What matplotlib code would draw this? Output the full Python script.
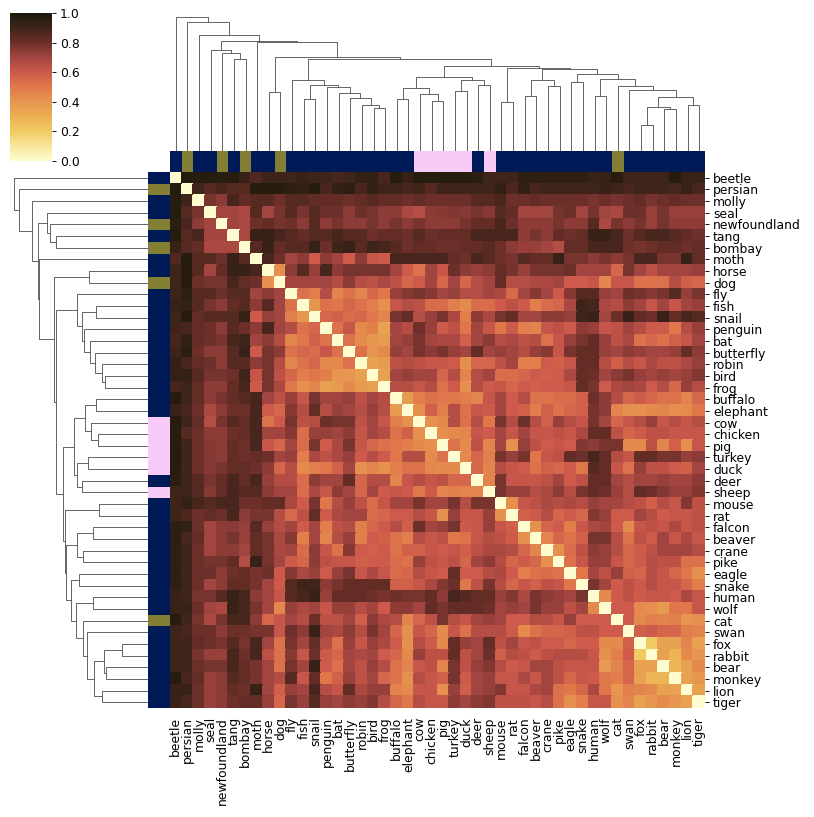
import numpy as np
import matplotlib
matplotlib.use('Agg')
import matplotlib.pyplot as plt
from matplotlib.colors import LinearSegmentedColormap, ListedColormap

# leaves in the clustered order
animals = ['beetle', 'persian', 'molly', 'seal', 'newfoundland', 'tang', 'bombay', 'moth',
           'horse', 'dog', 'fly', 'fish', 'snail', 'penguin', 'bat', 'butterfly', 'robin',
           'bird', 'frog', 'buffalo', 'elephant', 'cow', 'chicken', 'pig', 'turkey', 'duck',
           'deer', 'sheep', 'mouse', 'rat', 'falcon', 'beaver', 'crane', 'pike', 'eagle',
           'snake', 'human', 'wolf', 'cat', 'swan', 'fox', 'rabbit', 'bear', 'monkey',
           'lion', 'tiger']

# 0 = other, 1 = pet, 2 = farm
groups = [0, 1, 0, 0, 1, 0, 1, 0, 0, 1, 0, 0, 0, 0, 0, 0, 0, 0, 0, 0, 0, 2, 2, 2, 2, 2,
          0, 2, 0, 0, 0, 0, 0, 0, 0, 0, 0, 0, 1, 0, 0, 0, 0, 0, 0, 0]
group_colors = ['#001a58', '#827f35', '#f8caf8']

# upper triangle of the distance matrix, row i holds columns i+1 .. 45
upper = [
    [.98, .97, .97, .96, .97, .92, .86, .9, .9, .9, .92, .9, .9, .88, .9, .93, .93, .88, .97, .92, .97, .97, .97, .97, .97, .96, .9, .9, .9, .95, .95, .95, .95, .95, .95, .92, .92, .97, .9, .9, .9, .9, .97, .92, .92],
    [.9, .85, .88, .85, .85, .97, .97, .97, .95, .93, .97, .88, .93, .95, .88, .93, .9, .9, .88, .9, .85, .9, .9, .9, .9, .9, .93, .87, .93, .88, .9, .9, .9, .9, .9, .92, .9, .88, .9, .9, .9, .88, .92, .88],
    [.78, .74, .88, .82, .85, .85, .8, .85, .85, .82, .82, .82, .8, .82, .85, .82, .82, .8, .82, .8, .8, .8, .8, .85, .85, .88, .8, .8, .82, .8, .8, .8, .8, .78, .8, .78, .8, .82, .78, .8, .82, .8, .8],
    [.7, .7, .68, .85, .7, .78, .85, .78, .85, .8, .8, .74, .8, .78, .74, .74, .68, .66, .74, .75, .76, .75, .78, .75, .85, .82, .7, .7, .7, .78, .8, .7, .78, .7, .68, .8, .8, .72, .78, .72, .72, .72],
    [.7, .68, .8, .82, .78, .8, .74, .85, .74, .78, .74, .74, .78, .74, .78, .74, .78, .74, .74, .74, .78, .82, .82, .88, .8, .74, .74, .74, .78, .74, .74, .85, .68, .78, .74, .78, .72, .78, .74, .74, .74],
    [.68, .92, .92, .88, .85, .82, .85, .85, .88, .85, .85, .8, .82, .82, .8, .85, .8, .82, .82, .82, .88, .88, .88, .88, .74, .78, .74, .82, .8, .82, .92, .92, .88, .8, .85, .88, .88, .85, .82, .8],
    [.85, .92, .82, .85, .85, .92, .8, .9, .92, .85, .9, .88, .85, .8, .82, .82, .8, .8, .82, .82, .85, .8, .74, .72, .72, .7, .66, .82, .82, .88, .88, .88, .8, .78, .8, .82, .82, .8, .82],
    [.88, .8, .7, .74, .6, .74, .7, .6, .74, .62, .6, .88, .88, .88, .88, .88, .82, .8, .88, .85, .8, .78, .85, .82, .82, .92, .78, .78, .74, .78, .74, .78, .88, .88, .78, .78, .92, .82],
    [.42, .74, .85, .72, .88, .74, .78, .78, .78, .78, .7, .6, .52, .7, .62, .8, .74, .72, .74, .82, .78, .72, .78, .78, .78, .8, .7, .7, .7, .56, .78, .7, .64, .7, .7, .7, .72],
    [.7, .7, .7, .7, .66, .74, .66, .64, .68, .64, .56, .6, .7, .56, .7, .56, .66, .7, .82, .66, .66, .68, .68, .7, .6, .6, .62, .45, .62, .62, .52, .52, .52, .66, .58, .56],
    [.52, .48, .66, .46, .52, .46, .56, .5, .72, .75, .78, .75, .7, .72, .66, .66, .7, .68, .55, .7, .75, .7, .6, .75, .85, .85, .72, .7, .8, .78, .75, .78, .85, .72, .78],
    [.4, .52, .5, .56, .52, .48, .42, .62, .66, .64, .54, .54, .48, .44, .54, .54, .6, .64, .6, .48, .54, .56, .68, .9, .88, .68, .66, .74, .7, .62, .7, .62, .7, .72],
    [.56, .58, .54, .56, .5, .46, .78, .82, .66, .72, .78, .68, .48, .74, .68, .78, .82, .7, .7, .74, .74, .72, .9, .92, .7, .8, .92, .82, .8, .92, .82, .88, .85],
    [.52, .62, .44, .48, .36, .7, .66, .8, .72, .6, .64, .5, .7, .62, .5, .6, .48, .46, .62, .64, .6, .74, .72, .62, .64, .7, .66, .6, .6, .5, .66, .72],
    [.52, .44, .4, .38, .7, .72, .78, .7, .68, .68, .58, .7, .74, .66, .68, .64, .66, .52, .62, .72, .78, .82, .72, .64, .68, .52, .56, .52, .58, .62, .7],
    [.52, .4, .44, .72, .7, .78, .74, .78, .72, .7, .82, .7, .72, .7, .66, .72, .75, .62, .78, .82, .82, .72, .7, .74, .72, .7, .7, .72, .82, .74],
    [.36, .38, .64, .66, .64, .62, .62, .6, .42, .56, .56, .64, .7, .48, .48, .6, .58, .62, .82, .82, .66, .58, .66, .62, .68, .64, .64, .68, .72],
    [.36, .7, .72, .7, .7, .56, .66, .46, .66, .7, .54, .54, .56, .6, .58, .6, .68, .82, .8, .7, .74, .78, .72, .7, .72, .7, .72, .76],
    [.66, .66, .62, .66, .52, .6, .42, .66, .6, .62, .56, .6, .58, .6, .6, .62, .82, .78, .6, .68, .7, .68, .6, .66, .56, .72, .66],
    [.38, .48, .52, .5, .5, .48, .46, .62, .7, .6, .66, .52, .52, .54, .54, .58, .8, .74, .66, .56, .6, .56, .52, .52, .46, .56],
    [.42, .58, .48, .66, .52, .62, .6, .7, .6, .58, .48, .58, .52, .56, .58, .78, .74, .46, .42, .42, .44, .46, .42, .44, .5],
    [.42, .44, .66, .52, .66, .5, .78, .66, .8, .66, .58, .72, .66, .62, .78, .7, .56, .62, .66, .72, .62, .66, .62, .66],
    [.42, .44, .45, .62, .6, .7, .62, .7, .62, .62, .64, .62, .68, .82, .82, .64, .56, .6, .64, .64, .62, .62, .62],
    [.52, .44, .64, .46, .7, .42, .72, .64, .6, .62, .6, .76, .74, .78, .78, .44, .44, .64, .46, .58, .42, .62],
    [.44, .56, .48, .78, .72, .78, .5, .62, .64, .82, .8, .88, .82, .66, .62, .82, .82, .78, .78, .72, .74],
    [.56, .46, .66, .62, .6, .52, .58, .56, .6, .5, .85, .82, .62, .52, .72, .64, .64, .6, .58, .7],
    [.46, .78, .62, .62, .62, .64, .7, .6, .64, .82, .82, .7, .66, .7, .7, .72, .7, .7, .74],
    [.78, .72, .72, .66, .68, .74, .66, .78, .82, .8, .72, .66, .82, .8, .76, .72, .72, .76],
    [.42, .62, .64, .68, .66, .68, .66, .72, .7, .7, .66, .64, .58, .66, .62, .76, .64],
    [.58, .6, .66, .56, .6, .56, .76, .72, .6, .6, .7, .66, .6, .62, .62, .64],
    [.42, .56, .6, .48, .62, .68, .7, .6, .44, .62, .64, .62, .68, .62, .64],
    [.46, .56, .52, .58, .78, .78, .66, .52, .64, .6, .7, .62, .68, .62],
    [.42, .54, .64, .74, .72, .66, .56, .6, .64, .7, .7, .7, .66],
    [.52, .62, .72, .72, .62, .56, .6, .66, .64, .64, .52, .52],
    [.5, .7, .64, .72, .58, .56, .66, .62, .56, .5, .42],
    [.78, .7, .6, .64, .6, .66, .62, .62, .56, .48],
    [.44, .6, .64, .6, .62, .62, .6, .68, .62],
    [.6, .6, .44, .42, .38, .5, .5, .62],
    [.6, .44, .48, .46, .48, .4, .42],
    [.58, .6, .56, .56, .48, .46],
    [.2, .36, .36, .46, .36],
    [.36, .28, .44, .4],
    [.28, .36, .44],
    [.36, .4],
    [.36],
]

# linkage: (left, right, height); ids >= 46 are earlier merges
merges = [
    (40, 41, 26.3), (42, 43, 41.7), (46, 47, 43.7), (17, 18, 43.3), (16, 49, 45.7),
    (44, 45, 46.0), (28, 29, 48.7), (22, 23, 50.0), (11, 12, 52.0), (19, 20, 52.0),
    (15, 50, 53.3), (48, 51, 54.0), (30, 31, 54.7), (36, 37, 55.3), (21, 53, 56.7),
    (14, 56, 58.3), (8, 9, 58.7), (24, 25, 60.3), (39, 57, 61.3), (55, 60, 62.7),
    (13, 61, 64.3), (38, 64, 64.7), (32, 33, 65.3), (54, 66, 66.0), (26, 27, 66.3),
    (34, 35, 69.3), (58, 68, 70.7), (10, 69, 71.0), (63, 70, 71.0), (59, 67, 72.3),
    (65, 74, 74.3), (71, 75, 76.7), (72, 77, 82.0), (52, 78, 83.0), (76, 79, 85.3),
    (73, 80, 91.7), (5, 6, 92.0), (62, 81, 94.0), (4, 82, 97.7), (3, 84, 101.0),
    (7, 83, 108.7), (85, 86, 110.3), (2, 87, 116.0), (1, 88, 128.7), (0, 89, 133.7),
]

n = len(animals)
dist = np.zeros((n, n))
for i, row in enumerate(upper):
    for k, v in enumerate(row):
        dist[i, i + 1 + k] = v
        dist[i + 1 + k, i] = v

cmap = LinearSegmentedColormap.from_list('lajolla', [
    (0.0, '#fffdcf'), (0.1, '#f8e69a'), (0.2, '#f1cb62'), (0.3, '#ebb053'),
    (0.4, '#e6964f'), (0.5, '#e0784b'), (0.6, '#cd5a4b'), (0.7, '#a3443f'),
    (0.8, '#6c2f29'), (0.9, '#40241a'), (1.0, '#1c1a0a')])

W, H = 814, 817
fig = plt.figure(figsize=(W / 81.4, H / 81.4), dpi=81.4)


def add_ax(x0, y0, x1, y1):
    return fig.add_axes([x0 / W, 1 - y1 / H, (x1 - x0) / W, (y1 - y0) / H])


# dendrogram coordinates
pos = {i: (i + 0.5, 0.0) for i in range(n)}
segs = []
for k, (a, b, h) in enumerate(merges):
    xa, ha = pos[a]
    xb, hb = pos[b]
    segs.append(([xa, xa, xb, xb], [ha, h, h, hb]))
    pos[n + k] = ((xa + xb) / 2, h)
top = merges[-1][2] * 1.05

# heatmap
ax = add_ax(170, 172, 705, 708)
mesh = ax.pcolormesh(dist, cmap=cmap, vmin=0, vmax=1,
                     edgecolors='face', linewidth=0.1)
ax.set_xlim(0, n)
ax.set_ylim(n, 0)
ax.set_xticks(np.arange(n) + 0.5)
ax.set_xticklabels(animals, rotation=90, fontsize=11)
ax.set_yticks(np.arange(n) + 0.5)
ax.set_yticklabels(animals, fontsize=11)
ax.yaxis.tick_right()
ax.tick_params(axis='x', length=0, pad=8)
for s in ax.spines.values():
    s.set_visible(False)

# colour strips
gcmap = ListedColormap(group_colors)
axc = add_ax(170, 151, 705, 172)
axc.pcolormesh(np.array([groups]), cmap=gcmap, vmin=-0.5, vmax=2.5)
axc.set_axis_off()
axr = add_ax(148, 172, 169.5, 708)
axr.pcolormesh(np.array([groups]).T, cmap=gcmap, vmin=-0.5, vmax=2.5)
axr.set_ylim(n, 0)
axr.set_axis_off()

# dendrograms
axd = add_ax(170, 151 - top, 705, 151)
axl = add_ax(148 - top, 172, 148, 708)
for xs, hs in segs:
    axd.plot(xs, hs, color='0.35', lw=0.8)
    axl.plot(hs, xs, color='0.35', lw=0.8)
axd.set_xlim(0, n)
axd.set_ylim(0, top)
axd.set_axis_off()
axl.set_ylim(n, 0)
axl.set_xlim(top, 0)
axl.set_axis_off()

# colorbar
cax = add_ax(10, 13, 52, 161)
cb = fig.colorbar(mesh, cax=cax, ticks=[0, 0.2, 0.4, 0.6, 0.8, 1.0])
cb.ax.tick_params(labelsize=11)
cb.outline.set_visible(False)

fig.savefig('out.png', dpi=81.4)
